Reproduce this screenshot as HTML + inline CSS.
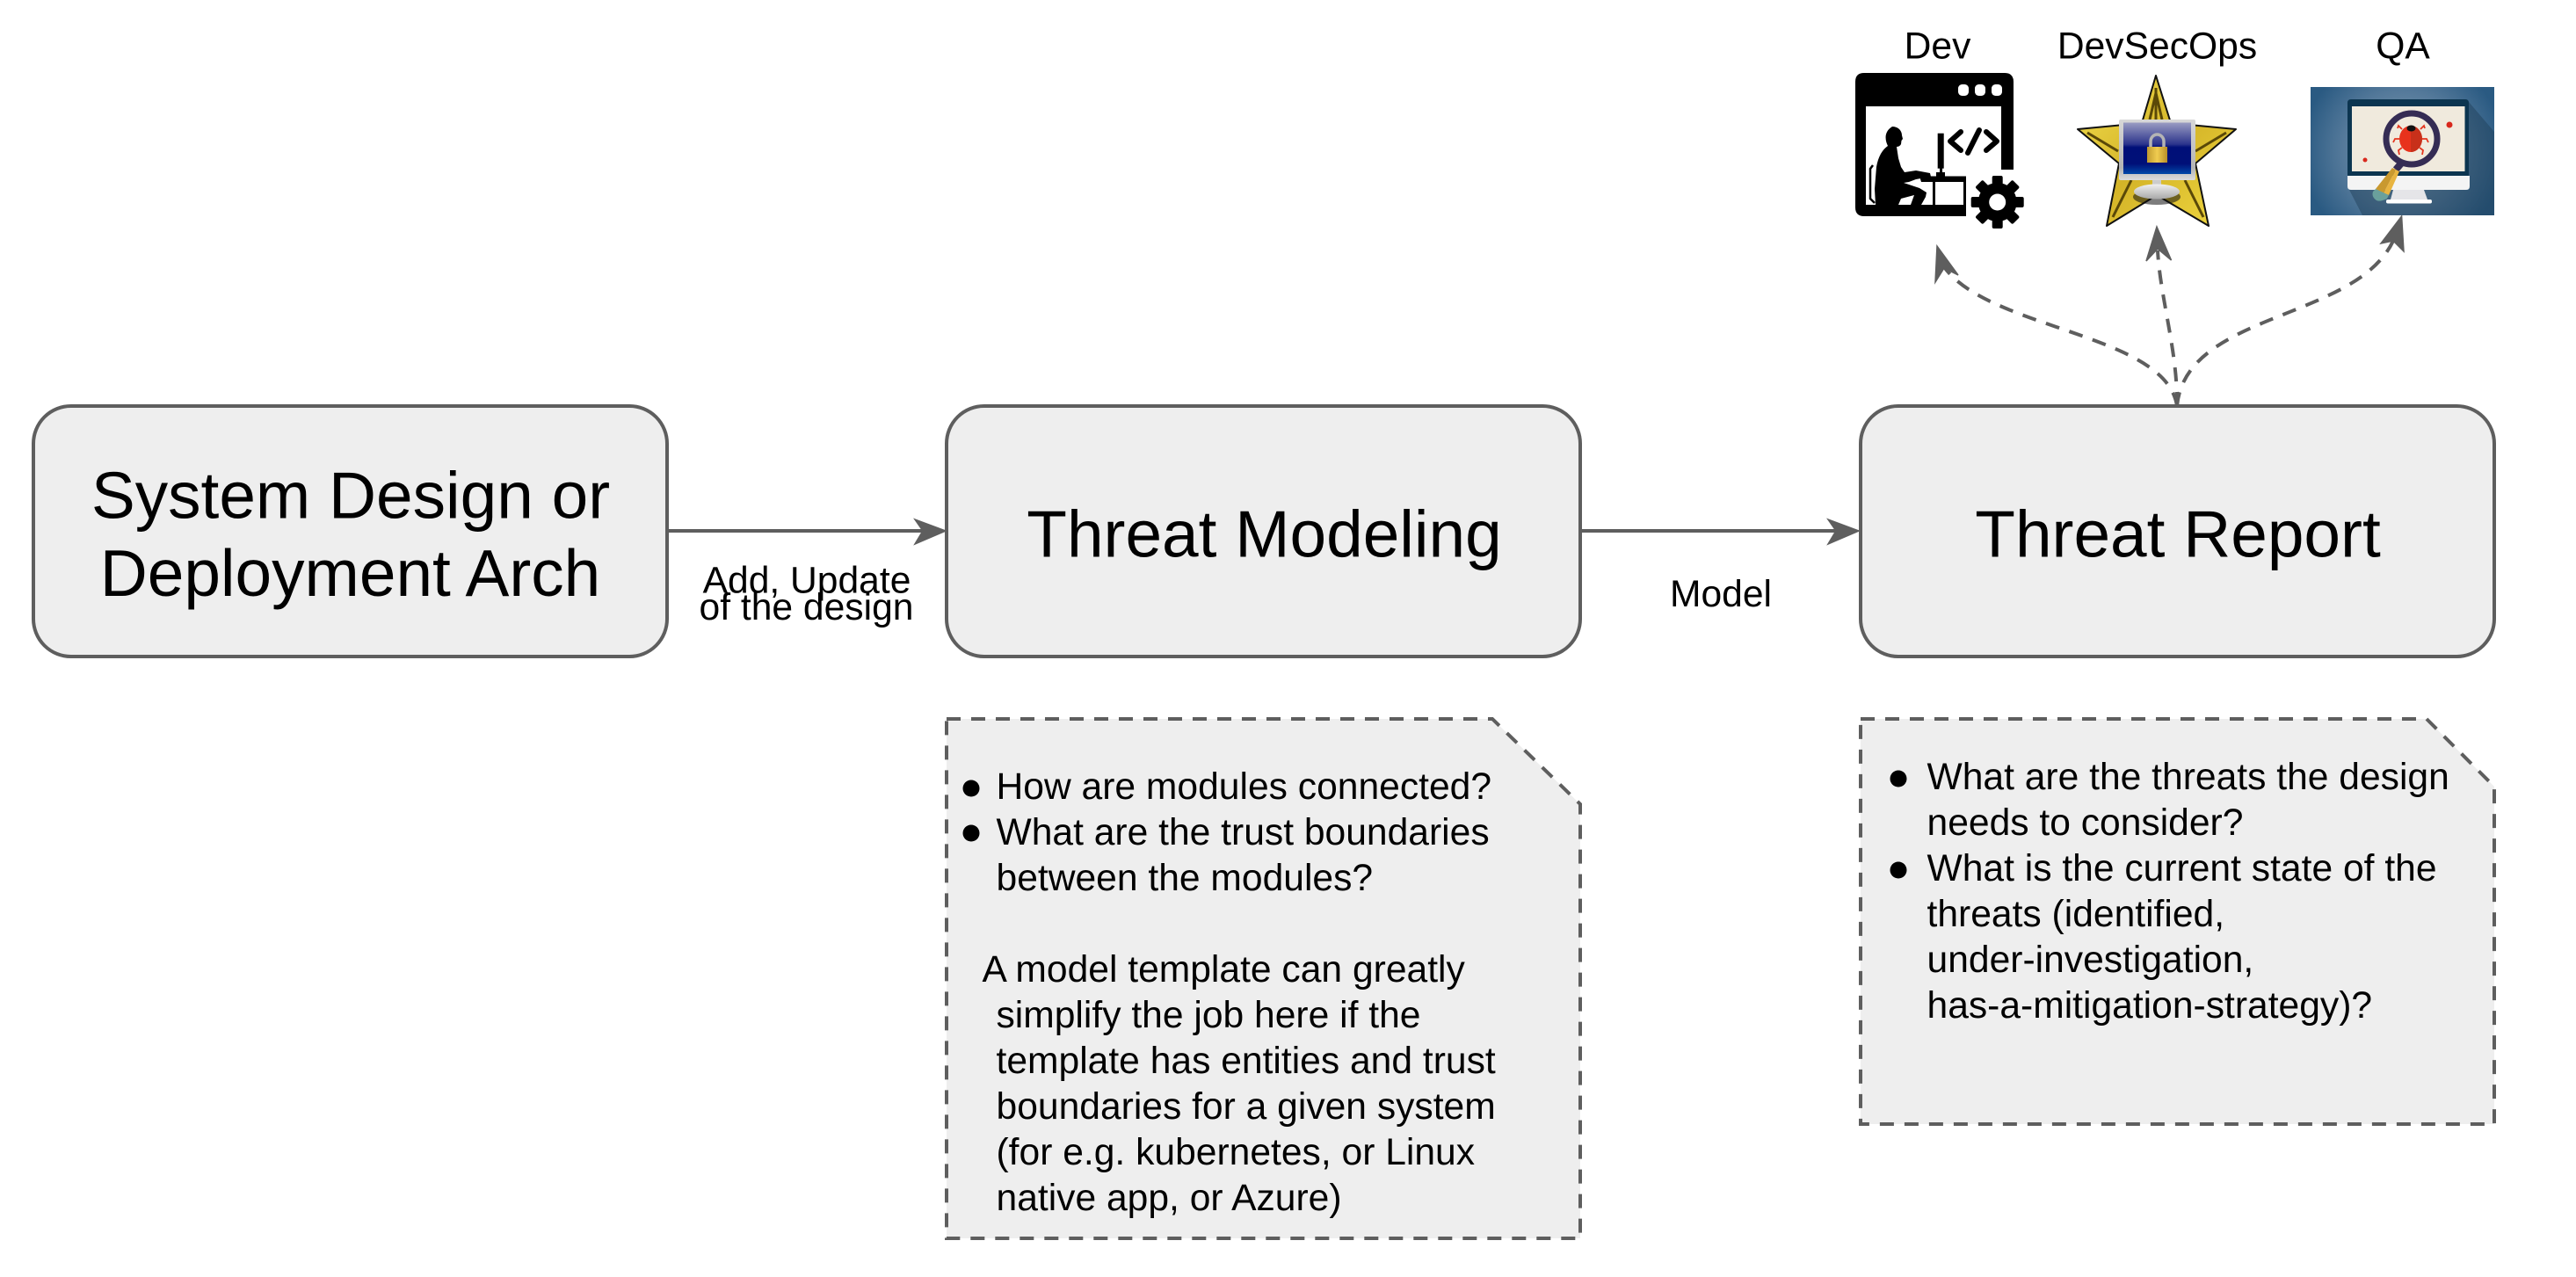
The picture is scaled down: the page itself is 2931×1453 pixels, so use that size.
<!DOCTYPE html>
<html><head><meta charset="utf-8">
<style>
html,body{margin:0;padding:0;background:#fff;width:2931px;height:1453px;overflow:hidden}
svg{display:block}
text{font-family:"Liberation Sans",sans-serif;fill:#000}
.big{font-size:74.8px;text-anchor:middle}
.sm{font-size:42.6px}
.mid{text-anchor:middle}
.box{fill:#eee;stroke:#5e5e5e;stroke-width:4}
.note{fill:#eee;stroke:#5e5e5e;stroke-width:4;stroke-dasharray:16 12}
.ln{fill:none;stroke:#5e5e5e;stroke-width:4}
.dl{fill:none;stroke:#5e5e5e;stroke-width:4;stroke-dasharray:16 12}
.hd{fill:#5e5e5e;stroke:#5e5e5e;stroke-width:1.5}
</style></head><body>
<svg width="2931" height="1453" viewBox="0 0 2931 1453" xmlns="http://www.w3.org/2000/svg">
<defs>
<linearGradient id="gold" x1="0" y1="0" x2="1" y2="1"><stop offset="0" stop-color="#f4e050"/><stop offset=".5" stop-color="#d4b428"/><stop offset="1" stop-color="#f0d840"/></linearGradient>
<linearGradient id="scr" x1="0" y1="0" x2="0" y2="1"><stop offset="0" stop-color="#9a9cc2"/><stop offset=".42" stop-color="#2c348c"/><stop offset=".48" stop-color="#000f78"/><stop offset=".8" stop-color="#001078"/><stop offset="1" stop-color="#0048a8"/></linearGradient>
<linearGradient id="bez" x1="0" y1="0" x2="0" y2="1"><stop offset="0" stop-color="#d8d8d8"/><stop offset=".8" stop-color="#b4b4b4"/><stop offset="1" stop-color="#dcdcdc"/></linearGradient>
<linearGradient id="lk" x1="0" y1="0" x2="1" y2="0"><stop offset="0" stop-color="#c09a30"/><stop offset=".5" stop-color="#f0cc50"/><stop offset="1" stop-color="#b88e28"/></linearGradient>
<radialGradient id="qa" gradientUnits="userSpaceOnUse" cx="2734" cy="172" r="115"><stop offset="0" stop-color="#84a0b4"/><stop offset=".6" stop-color="#54799a"/><stop offset="1" stop-color="#2a5a82"/></radialGradient>
<linearGradient id="ell" x1="0" y1="0" x2="0" y2="1"><stop offset="0" stop-color="#f0f0f0"/><stop offset="1" stop-color="#a8a8a8"/></linearGradient>
</defs>

<!-- main boxes -->
<rect class="box" x="38" y="462" width="721" height="285" rx="42.7" ry="42.7"/>
<rect class="box" x="1077" y="462" width="721" height="285" rx="42.7" ry="42.7"/>
<rect class="box" x="2117" y="462" width="721" height="285" rx="42.7" ry="42.7"/>

<text class="big" x="399" y="589.500">System Design or</text>
<text class="big" x="398.5" y="678">Deployment Arch</text>
<text class="big" x="1438.5" y="633.500">Threat Modeling</text>
<text class="big" x="2478" y="633.500">Threat Report</text>

<!-- solid connectors -->
<path class="ln" d="M759 604H1062"/>
<path class="hd" d="M1076 604L1041 619L1050 604L1041 591Z" />
<path class="ln" d="M1798 604H2100"/>
<path class="hd" d="M2115 604L2080 619L2089 604L2080 591Z"/>
<text class="sm mid" x="918" y="674.500">Add, Update</text>
<text class="sm mid" x="917.500" y="705">of the design</text>
<text class="sm mid" x="1958" y="690">Model</text>

<!-- notes -->
<path class="note" d="M1077 818H1698L1798 915V1409H1077Z"/>
<text class="sm" x="1133.500" y="909">How are modules connected?</text>
<text class="sm" x="1133.500" y="961">What are the trust boundaries</text>
<text class="sm" x="1133.500" y="1013">between the modules?</text>
<text class="sm" x="1117.500" y="1117">A model template can greatly</text>
<text class="sm" x="1133.500" y="1169">simplify the job here if the</text>
<text class="sm" x="1133.500" y="1221">template has entities and trust</text>
<text class="sm" x="1133.500" y="1273">boundaries for a given system</text>
<text class="sm" x="1133.500" y="1325">(for e.g. kubernetes, or Linux</text>
<text class="sm" x="1133.500" y="1377">native app, or Azure)</text>
<circle cx="1105" cy="897" r="9.5"/><circle cx="1105" cy="948" r="9.5"/>

<path class="note" d="M2117 818H2761L2838 895V1279H2117Z"/>
<text class="sm" x="2192.500" y="898">What are the threats the design</text>
<text class="sm" x="2192.500" y="950">needs to consider?</text>
<text class="sm" x="2192.500" y="1002">What is the current state of the</text>
<text class="sm" x="2192.500" y="1054">threats (identified,</text>
<text class="sm" x="2192.500" y="1106">under-investigation,</text>
<text class="sm" x="2192.500" y="1158">has-a-mitigation-strategy)?</text>
<circle cx="2160" cy="886" r="9.5"/><circle cx="2160" cy="990" r="9.5"/>

<!-- dashed connectors -->
<path class="dl" d="M2477 462C2465 380 2265 375 2213 305"/>
<path class="dl" d="M2477 462C2478 400 2458 340 2455 285"/>
<path class="dl" d="M2477 462C2487 355 2680 365 2723 274"/>
<path class="hd" d="M2204 280L2202 321L2212 305L2228 313Z"/>
<path class="hd" d="M2454 258L2442 297L2455 283L2470.500 296Z"/>
<path class="hd" d="M2732.6 246L2709 277L2723 274L2735 286Z"/>

<!-- labels -->
<text class="sm mid" x="2204.5" y="66.500">Dev</text>
<text class="sm mid" x="2454.5" y="66.500">DevSecOps</text>
<text class="sm mid" x="2734" y="66.500">QA</text>

<!-- Dev icon -->
<path d="M2121 83H2281Q2291 83 2291 93V193H2277V121H2123V233H2237V246H2121Q2111 246 2111 236V93Q2111 83 2121 83Z" fill="#000"/>
<rect x="2228" y="96" width="12" height="13" rx="4.5" fill="#fff"/><rect x="2247" y="96" width="12" height="13" rx="4.5" fill="#fff"/><rect x="2266" y="96" width="12" height="13" rx="4.5" fill="#fff"/>
<path d="M2153 144C2160 144 2164 149 2164 154L2165 158L2163.5 160L2163 164C2162 166 2160 167 2158 167L2160 180L2163 190L2167 196L2180 194L2196 197L2197 201L2180 204L2172 207L2166 208L2184 214L2192 219L2191 224L2186 233L2174 233L2178 222L2163 226L2160 233L2134 233L2133 215L2135 190C2137 178 2142 170 2148 166C2145 160 2143 150 2153 144Z" fill="#000"/>
<path d="M2131 188L2128 192V226L2133 231" fill="none" stroke="#000" stroke-width="2.5"/>
<path d="M2184 200.500H2237V233H2234V207H2202V233H2199V207H2186Z" fill="#000"/>
<rect x="2204.700" y="151.700" width="7" height="40" fill="#000"/><rect x="2207" y="190" width="3" height="8" fill="#000"/><rect x="2203" y="196" width="10" height="5" fill="#000"/>
<path d="M2231 150L2219 160.700L2231 171" fill="none" stroke="#000" stroke-width="6" stroke-linecap="round" stroke-linejoin="round"/>
<path d="M2252 148L2239 174" fill="none" stroke="#000" stroke-width="6" stroke-linecap="round"/>
<path d="M2260 150L2272 160.700L2260 171" fill="none" stroke="#000" stroke-width="6" stroke-linecap="round" stroke-linejoin="round"/>
<!-- gear -->
<g transform="translate(2272.7 230)" fill="#000">
<circle r="22"/>
<rect x="-6" y="-30" width="12" height="60" rx="2"/>
<rect x="-6" y="-30" width="12" height="60" rx="2" transform="rotate(45)"/>
<rect x="-6" y="-30" width="12" height="60" rx="2" transform="rotate(90)"/>
<rect x="-6" y="-30" width="12" height="60" rx="2" transform="rotate(135)"/>
<circle r="9.5" fill="#fff"/>
</g>

<!-- Star icon -->
<path d="M2453 86L2470 140L2544 147L2498 186L2513 257L2454 222L2397 257L2411 186L2364 147L2437 140Z" fill="url(#gold)" stroke="#111" stroke-width="2" stroke-linejoin="round"/>
<path d="M2453 100V138M2446 136L2453 106L2460 136M2425 205L2404 247M2486 205L2507 247M2375 151L2410 172M2533 151L2498 172" stroke="#5a4808" stroke-width="3" fill="none"/>
<ellipse cx="2454" cy="224" rx="27" ry="9" fill="#111" opacity=".55"/>
<rect x="2411" y="136" width="87" height="69" rx="2" fill="url(#bez)"/>
<rect x="2416" y="139.5" width="77" height="58.5" fill="url(#scr)"/>
<rect x="2449" y="205" width="10" height="10" fill="#ccc"/>
<ellipse cx="2454" cy="218" rx="26" ry="8.5" fill="url(#ell)"/>
<path d="M2447 168V161A7.5 8 0 0 1 2462 161V168" fill="none" stroke="#b4b4b4" stroke-width="3.5"/>
<rect x="2443" y="167" width="23" height="18" fill="url(#lk)"/>

<!-- QA icon -->
<rect x="2629" y="99" width="209" height="146" fill="url(#qa)"/>
<path d="M2809 116L2838 150V245H2688L2673 216H2809Z" fill="#1d3c54" opacity=".45"/>
<path d="M2675 113H2805Q2809 113 2809 117V200H2671V117Q2671 113 2675 113Z" fill="#0c3550"/>
<rect x="2676" y="121" width="128.500" height="74" fill="#f0eadd"/>
<path d="M2671 200H2810V212Q2810 216 2806 216H2675Q2671 216 2671 212Z" fill="#f4f4f4"/>
<path d="M2723 216H2758L2762 227H2720Z" fill="#e5e5e8"/>
<rect x="2715" y="227" width="52" height="4.500" rx="2" fill="#fff"/>
<path d="M2732 186L2726 193" stroke="#352c54" stroke-width="8" fill="none"/>
<path d="M2722 191L2726 193L2712 220L2703 215Z" fill="#c9992f"/>
<path d="M2726 193L2730 195L2718 222L2712 220Z" fill="#e8b440"/>
<path d="M2703 215L2718 222L2716 226Q2708 230 2704 228Q2698 224 2700 218Z" fill="#6aa09c"/>
<circle cx="2744" cy="158" r="29" fill="#f0eadd" stroke="#352c54" stroke-width="7"/>
<g stroke="#e4351e" stroke-width="1.800" fill="none">
<path d="M2733 147L2729 143L2728 146M2754 147L2758 143L2759 146M2730 158L2725 158L2723 162M2756 158L2761 158L2763 162M2733 168L2729 171L2730 176M2753 168L2757 171L2756 176"/>
</g>
<ellipse cx="2743" cy="158" rx="13" ry="15" fill="#e8321c"/>
<path d="M2743 143A13 15 0 0 1 2743 173Z" fill="#c8301a"/>
<ellipse cx="2743.500" cy="146" rx="5" ry="3.500" fill="#111"/>
<circle cx="2787" cy="142" r="3.500" fill="#d8281c"/>
<circle cx="2691" cy="182" r="2.500" fill="#d8281c"/>
</svg>
</body></html>
